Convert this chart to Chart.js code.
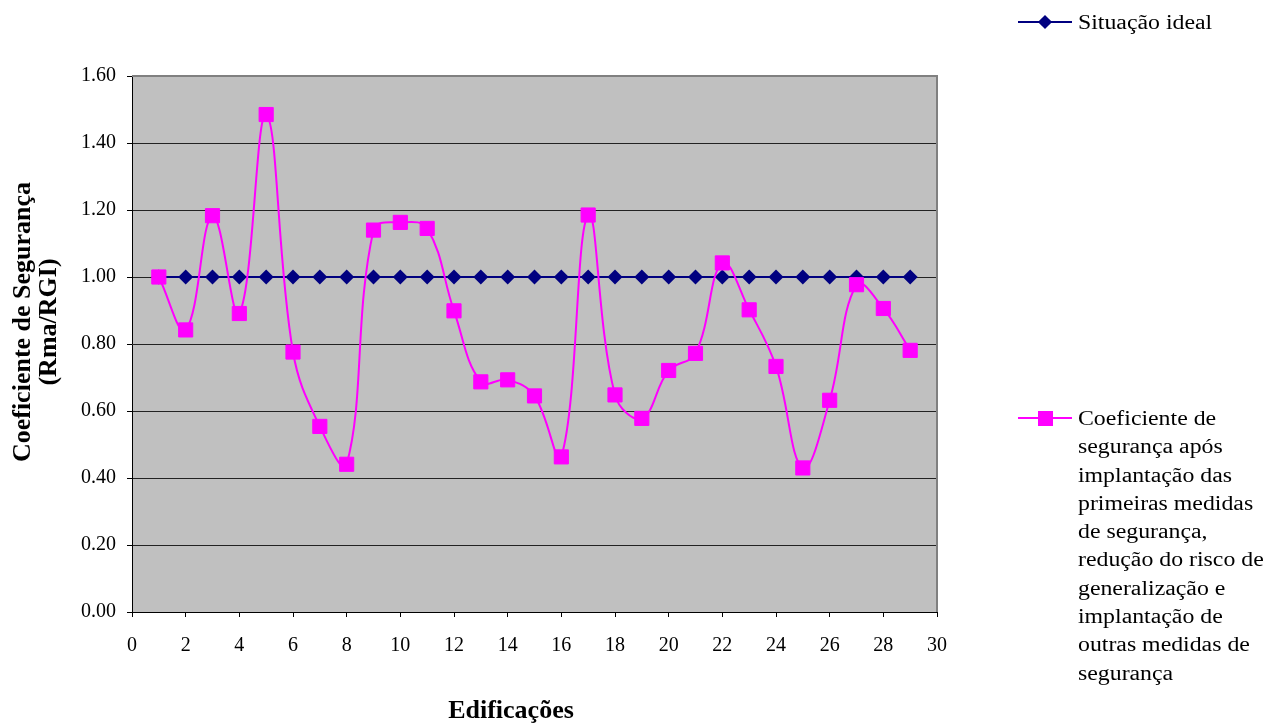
<!DOCTYPE html>
<html>
<head>
<meta charset="utf-8">
<script src="https://cdn.jsdelivr.net/npm/chart.js@4/dist/chart.umd.min.js"></script>
<style>
  html, body { margin: 0; padding: 0; background: #fff; }
  #wrap { position: relative; width: 1271px; height: 725px; }
  #chart { position: absolute; left: 0; top: 0; }
  .leg { position: absolute; left: 1018px; font-family: "Liberation Serif", "Times New Roman", serif; font-size: 20px; color: #000; }
  .leg .ln { position: absolute; left: 0; width: 54px; height: 2px; }
  .leg .txt { position: absolute; left: 60px; line-height: 28.3px; white-space: nowrap; transform: scaleX(1.19); transform-origin: 0 0; }
</style>
</head>
<body>
<div id="wrap">
  <canvas id="chart" width="1271" height="725"></canvas>
  <div class="leg" style="top:22px">
    <div class="ln" style="top:-1px;background:#000080"></div>
    <div style="position:absolute;left:22px;top:-5px;width:10px;height:10px;background:#000080;transform:rotate(45deg)"></div>
    <div class="txt" style="top:-14px">Situação ideal</div>
  </div>
  <div class="leg" style="top:418px">
    <div class="ln" style="top:-1px;background:#ff00ff"></div>
    <div style="position:absolute;left:20px;top:-7px;width:15px;height:15px;background:#ff00ff"></div>
    <div class="txt" style="top:-14px">Coeficiente de<br>segurança após<br>implantação das<br>primeiras medidas<br>de segurança,<br>redução do risco de<br>generalização e<br>implantação de<br>outras medidas de<br>segurança</div>
  </div>
</div>
<script>
// Dados
const edificacoes = [1, 2, 3, 4, 5, 6, 7, 8, 9, 10, 11, 12, 13, 14, 15, 16, 17, 18, 19, 20, 21, 22, 23, 24, 25, 26, 27, 28, 29];
const situacaoIdeal = [1, 1, 1, 1, 1, 1, 1, 1, 1, 1, 1, 1, 1, 1, 1, 1, 1, 1, 1, 1, 1, 1, 1, 1, 1, 1, 1, 1, 1];
const coeficiente = [1.00, 0.842, 1.183, 0.891, 1.485, 0.776, 0.554, 0.441, 1.140, 1.163, 1.145, 0.899, 0.687, 0.693, 0.645,
                     0.463, 1.185, 0.648, 0.578, 0.721, 0.772, 1.042, 0.902, 0.733, 0.430, 0.632, 0.977, 0.906, 0.781];
const yTicks = [0, 0.2, 0.4, 0.6, 0.8, 1.0, 1.2, 1.4, 1.6];

const serif = '"Liberation Serif", "Times New Roman", serif';

// Fundo cinza e moldura da área do gráfico
const plotArea = {
    id: 'plotArea',
    beforeDraw(chart) {
        const { ctx, chartArea: a } = chart;
        ctx.save();
        ctx.fillStyle = '#c0c0c0';
        ctx.fillRect(a.left, a.top, a.right - a.left, a.bottom - a.top);
        ctx.restore();
    },
    beforeDatasetsDraw(chart) {
        const { ctx, chartArea: a } = chart;
        ctx.save();
        ctx.strokeStyle = '#808080';
        ctx.lineWidth = 2;
        ctx.beginPath();
        ctx.moveTo(a.left, a.top);
        ctx.lineTo(a.right, a.top);
        ctx.lineTo(a.right, a.bottom);
        ctx.stroke();
        ctx.restore();
    }
};

// Títulos dos eixos
const axisTitles = {
    id: 'axisTitles',
    afterDraw(chart) {
        const { ctx } = chart;
        ctx.save();
        ctx.fillStyle = '#000';
        ctx.font = 'bold 26px ' + serif;
        ctx.textAlign = 'center';
        ctx.textBaseline = 'middle';
        ctx.translate(23, 322);
        ctx.rotate(-Math.PI / 2);
        ctx.fillText('Coeficiente de Segurança', 0, 0);
        ctx.fillText('(Rma/RGI)', 0, 26);
        ctx.restore();

        ctx.save();
        ctx.fillStyle = '#000';
        ctx.font = 'bold 26px ' + serif;
        ctx.textAlign = 'center';
        ctx.textBaseline = 'middle';
        ctx.fillText('Edificações', 511, 711);
        ctx.restore();
    }
};

const ctx = document.getElementById('chart');
new Chart(ctx, {
    type: 'line',
    data: {
        datasets: [{
            label: 'Situação ideal',
            data: edificacoes.map((x, i) => ({ x: x, y: situacaoIdeal[i] })),
            borderColor: '#000080',
            backgroundColor: '#000080',
            borderWidth: 2,
            pointStyle: 'rectRot',
            pointRadius: 7.5,
            pointBorderWidth: 0,
            tension: 0,
            order: 2
        }, {
            label: 'Coeficiente de segurança após implantação das primeiras medidas de segurança, redução do risco de generalização e implantação de outras medidas de segurança',
            data: edificacoes.map((x, i) => ({ x: x, y: coeficiente[i] })),
            borderColor: '#ff00ff',
            backgroundColor: '#ff00ff',
            borderWidth: 2,
            pointStyle: 'rect',
            pointRadius: 10,
            pointBorderWidth: 1,
            tension: 0.4,
            order: 1
        }]
    },
    options: {
        responsive: false,
        animation: false,
        devicePixelRatio: 1,
        layout: { padding: { top: 76, right: 334, left: 0, bottom: 0 } },
        plugins: {
            legend: { display: false },
            tooltip: { enabled: false }
        },
        scales: {
            x: {
                type: 'linear',
                min: 0,
                max: 30,
                afterFit: (s) => { s.height = 113; },
                ticks: {
                    stepSize: 2,
                    color: '#000',
                    padding: 17,
                    maxRotation: 0,
                    font: { family: serif, size: 20 }
                },
                grid: { drawOnChartArea: false, drawTicks: true, tickLength: 5, color: '#000' },
                border: { color: '#000', width: 1 }
            },
            y: {
                min: 0,
                max: 1.6,
                afterFit: (s) => { s.width = 132; },
                afterBuildTicks: (s) => { s.ticks = yTicks.map(v => ({ value: v })); },
                ticks: {
                    color: '#000',
                    padding: 11,
                    font: { family: serif, size: 20 },
                    callback: (v) => Number(v).toFixed(2)
                },
                grid: { color: '#222', tickLength: 5, tickColor: '#000' },
                border: { color: '#000', width: 1 }
            }
        }
    },
    plugins: [plotArea, axisTitles]
});
</script>
</body>
</html>
